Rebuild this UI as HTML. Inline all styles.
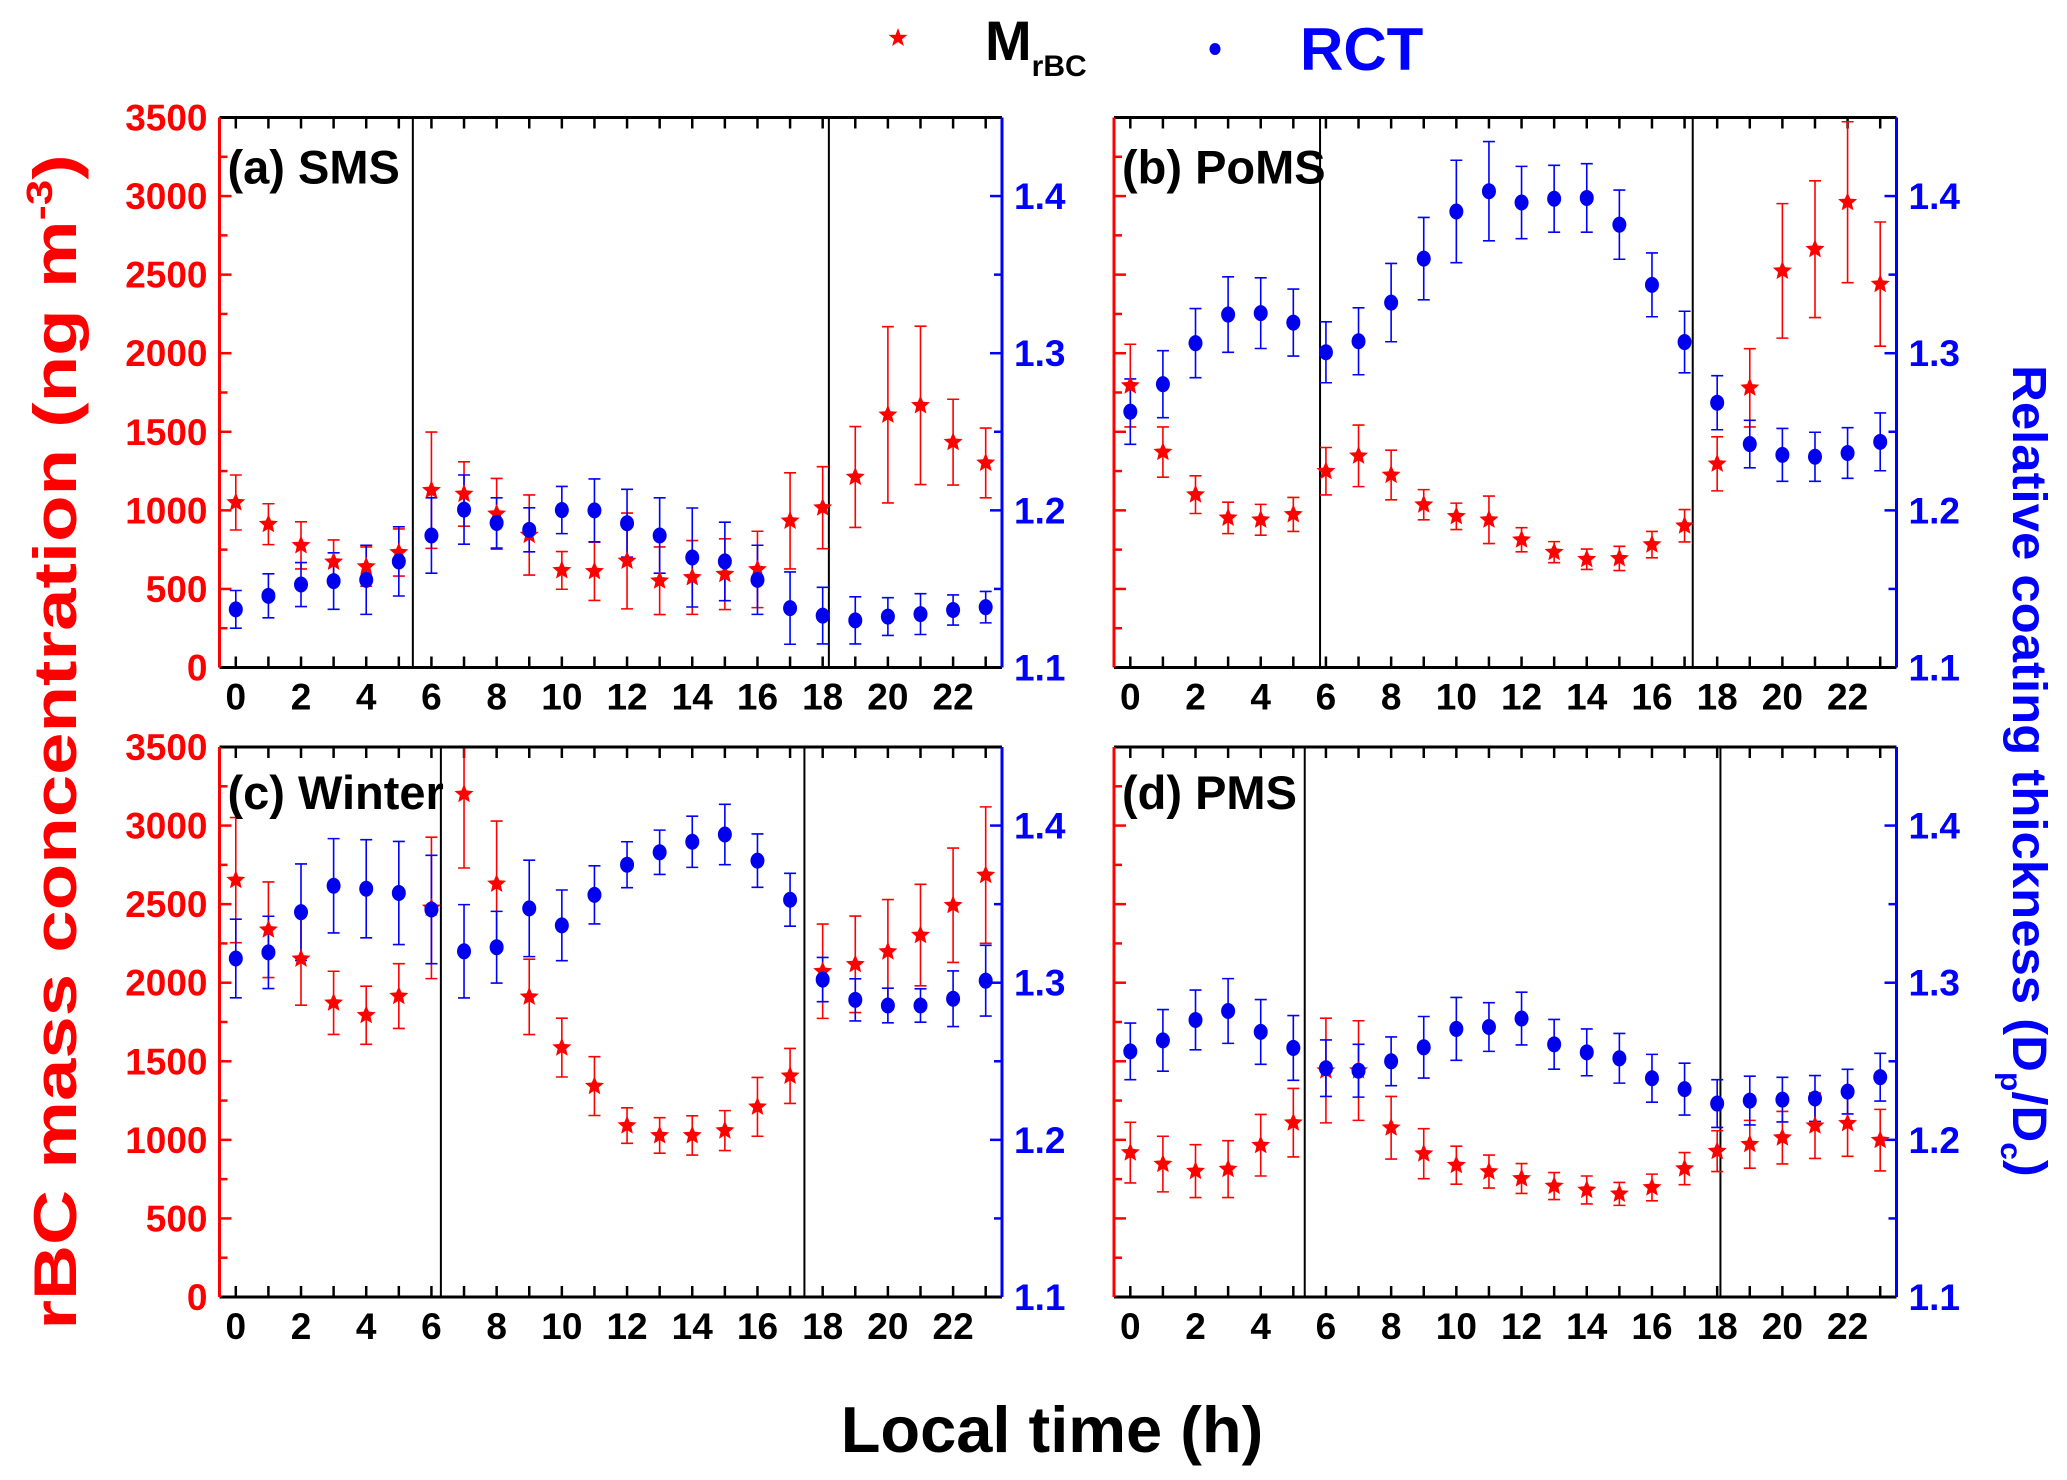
<!DOCTYPE html>
<html><head><meta charset="utf-8"><style>
html,body{margin:0;padding:0;background:#fff;}
svg{display:block;font-family:"Liberation Sans",Arial,sans-serif;font-weight:bold;}
</style></head><body>
<svg id="chart" width="2067" height="1480" viewBox="0 0 2067 1480" xmlns="http://www.w3.org/2000/svg">
<g>
  <g>
    <polygon fill="#ff0000" points="898,28 900.4,34.7 907.5,34.9 901.9,39.2 903.9,46 898,42 892.1,46 894.1,39.2 888.5,34.9 895.6,34.7"/>
    <text x="985" y="60" font-size="56" fill="#000">M<tspan font-size="30" dy="16">rBC</tspan></text>
  </g>
  <g>
    <ellipse cx="1215" cy="49" rx="5.5" ry="6" fill="#0000ee"/>
    <text x="1300" y="70" font-size="60" fill="#0000ff">RCT</text>
  </g>
</g>
<text transform="translate(76,742) rotate(-90) scale(1.27,1)" text-anchor="middle" font-size="60" fill="#ff0000">rBC mass concentration (ng m<tspan font-size="36" dy="-24">-3</tspan><tspan dy="24">)</tspan></text>
<text transform="translate(2013,771) rotate(90) scale(1.06,1)" text-anchor="middle" font-size="48" fill="#0000ff">Relative coating thickness (D<tspan font-size="30" dy="12">p</tspan><tspan dy="-12">/D</tspan><tspan font-size="30" dy="12">c</tspan><tspan dy="-12">)</tspan></text>
<text x="1052" y="1452" text-anchor="middle" font-size="65" fill="#000">Local time (h)</text>
<g id="panels"></g>
</svg>
<script>
// ---- data ----
const hours = [0,1,2,3,4,5,6,7,8,9,10,11,12,13,14,15,16,17,18,19,20,21,22,23];
const panelNames = ["(a) SMS","(b) PoMS","(c) Winter","(d) PMS"];
const rbcA = [1050,912,777,672,642,732,1128,1104,978,843,618,612,678,552,573,594,624,933,1017,1212,1608,1668,1434,1302];
const rbcErrA = [175,130,150,140,125,150,370,205,225,255,120,185,305,215,235,225,243,306,261,321,561,504,273,222];
const rctA = [1.137,1.1456,1.1528,1.155,1.1558,1.1675,1.184,1.2005,1.192,1.1876,1.2002,1.2,1.1918,1.184,1.17,1.1675,1.1558,1.1378,1.133,1.13,1.1324,1.134,1.1366,1.1384];
const rctErrA = [0.012,0.014,0.014,0.018,0.022,0.022,0.024,0.022,0.016,0.014,0.015,0.02,0.0216,0.024,0.0315,0.025,0.022,0.023,0.018,0.015,0.012,0.013,0.0096,0.010];
const rbcB = [1794,1371,1100,952,940,974,1249,1347,1225,1036,962,940,813,734,689,694,782,902,1296,1780,2524,2662,2961,2440];
const rbcErrB = [263,160,120,100,98,108,151,196,158,96,84,151,77,67,65,77,84,103,172,249,428,435,512,395];
const rctB = [1.2628,1.2803,1.3064,1.3246,1.3255,1.3195,1.3006,1.3076,1.3322,1.3602,1.3902,1.4031,1.3959,1.3983,1.3988,1.3818,1.3435,1.3071,1.2685,1.2422,1.2353,1.2341,1.2365,1.2436];
const rctErrB = [0.0208,0.0213,0.022,0.024,0.0225,0.0213,0.0194,0.0213,0.0249,0.0262,0.0326,0.0316,0.023,0.0213,0.0218,0.022,0.0203,0.0196,0.0172,0.0151,0.0168,0.0156,0.0161,0.0184];
const rbcC = [2653,2337,2152,1872,1793,1915,2476,3200,2629,1910,1587,1342,1091,1028,1028,1059,1210,1407,2073,2117,2198,2303,2493,2685];
const rbcErrC = [398,304,295,201,185,206,450,470,400,240,187,187,113,113,125,127,187,175,300,307,331,323,364,434];
const rctC = [1.3154,1.3193,1.3449,1.3617,1.3598,1.3571,1.3466,1.32,1.3226,1.3473,1.3365,1.3559,1.3751,1.383,1.3897,1.3943,1.3777,1.3528,1.302,1.2891,1.2855,1.2855,1.2898,1.3013];
const rctErrC = [0.025,0.023,0.0307,0.03,0.0312,0.0328,0.0345,0.0297,0.0228,0.0307,0.0225,0.0185,0.0146,0.0141,0.0163,0.0192,0.017,0.0168,0.0141,0.0134,0.011,0.0106,0.0177,0.0225];
const rbcD = [919,846,801,814,966,1109,1441,1441,1077,912,839,798,754,706,681,656,697,817,928,972,1014,1090,1105,998];
const rbcErrD = [193,177,168,181,196,218,333,317,199,159,121,105,95,86,89,73,85,102,130,152,167,208,210,196];
const rctD = [1.2563,1.2633,1.2763,1.282,1.2687,1.2585,1.2456,1.244,1.25,1.2589,1.2706,1.2718,1.2772,1.2608,1.2557,1.2519,1.2392,1.2323,1.2231,1.225,1.2256,1.2263,1.2307,1.2399];
const rctErrD = [0.018,0.0196,0.019,0.0206,0.0206,0.0206,0.018,0.0168,0.0155,0.0196,0.02,0.0155,0.0168,0.0158,0.0149,0.0158,0.0152,0.0165,0.0152,0.0155,0.0142,0.0146,0.0142,0.0152];
const sunrise = [5.43,5.82,6.29,5.35];
const sunset = [18.19,17.25,17.44,18.1];
const leftTicks = [0,500,1000,1500,2000,2500,3000,3500];
const rightTicks = [1.1,1.2,1.3,1.4];
const xTickLabels = [0,2,4,6,8,10,12,14,16,18,20,22];

const rbcSets=[rbcA,rbcB,rbcC,rbcD], rbcErrSets=[rbcErrA,rbcErrB,rbcErrC,rbcErrD];
const rctSets=[rctA,rctB,rctC,rctD], rctErrSets=[rctErrA,rctErrB,rctErrC,rctErrD];

const NS="http://www.w3.org/2000/svg";
function mk(tag,attrs,parent){const e=document.createElementNS(NS,tag);for(const k in attrs)e.setAttribute(k,attrs[k]);if(parent)parent.appendChild(e);return e;}
const origins=[[219.5,117.5],[1114,117.5],[219.5,747],[1114,747]];
const W=782.5,H=550;
const root=document.getElementById('panels');

function starPts(cx,cy,R){const r=R*0.45;let p=[];for(let i=0;i<10;i++){const a=-Math.PI/2+i*Math.PI/5;const rr=i%2?r:R;p.push((cx+rr*Math.cos(a)).toFixed(1)+","+(cy+rr*Math.sin(a)).toFixed(1));}return p.join(" ");}

for(let p=0;p<4;p++){
  const [ox,oy]=origins[p];
  const xS=h=>ox+(h+0.5)/24*W;
  const yL=v=>oy+H-v/3500*H;
  const yR=v=>oy+H-(v-1.1)/0.35*H;
  const g=mk('g',{},root);
  
  
  [sunrise[p],sunset[p]].forEach((h,i)=>{
    const l=mk('line',{x1:xS(h),x2:xS(h),y1:oy,y2:oy+H,stroke:'#000','stroke-width':2},g);
    
    
  });
  hours.forEach(h=>{
    const t1=mk('line',{x1:xS(h),x2:xS(h),y1:oy,y2:oy+11,stroke:'#000','stroke-width':2.5},g);
    
    
    const t2=mk('line',{x1:xS(h),x2:xS(h),y1:oy+H,y2:oy+H-11,stroke:'#000','stroke-width':2.5},g);
    
    
  });
  xTickLabels.forEach(h=>{
    const t=mk('text',{x:xS(h),y:oy+H+42,'text-anchor':'middle','font-size':37,fill:'#000'},g);
    t.textContent=h;
    
    
  });
  for(let v=0;v<=3500;v+=250){
    const major=v%500===0;
    const t=mk('line',{x1:ox,x2:ox+(major?12:8),y1:yL(v),y2:yL(v),stroke:'#ff0000','stroke-width':2.5},g);
    
    
  }
  if(p%2===0){
    leftTicks.forEach(v=>{
      const t=mk('text',{x:ox-12,y:yL(v)+13,'text-anchor':'end','font-size':37,fill:'#ff0000'},g);
      t.textContent=v;
      
      
    });
  }
  for(let i=0;i<=7;i++){
    const v=1.1+i*0.05;const major=i%2===0;
    const t=mk('line',{x1:ox+W,x2:ox+W-(major?12:8),y1:yR(v),y2:yR(v),stroke:'#0000ff','stroke-width':2.5},g);
    
    
  }
  rightTicks.forEach(v=>{
    const t=mk('text',{x:ox+W+12,y:yR(v)+13,'text-anchor':'start','font-size':37,fill:'#0000ff'},g);
    t.textContent=v.toFixed(1);
    
    
  });
  const rbc=rbcSets[p],rbcE=rbcErrSets[p],rct=rctSets[p],rctE=rctErrSets[p];
  hours.forEach((h,i)=>{
    const x=xS(h);
    const top=Math.max(yL(rbc[i]+rbcE[i]),oy), bot=yL(rbc[i]-rbcE[i]);
    const e=mk('path',{d:`M${x},${top}V${bot}M${x-6},${top}H${x+6}M${x-6},${bot}H${x+6}`,stroke:'#ff0000','stroke-width':1.6,fill:'none'},g);
    
    
  });
  hours.forEach((h,i)=>{
    const x=xS(h);
    const top=yR(rct[i]+rctE[i]), bot=yR(rct[i]-rctE[i]);
    const e=mk('path',{d:`M${x},${top}V${bot}M${x-6},${top}H${x+6}M${x-6},${bot}H${x+6}`,stroke:'#0000ff','stroke-width':1.6,fill:'none'},g);
    
    
  });
  hours.forEach((h,i)=>{
    const s=mk('polygon',{points:starPts(xS(h),yL(rbc[i]),10),fill:'#ff0000'},g);
    
    
  });
  hours.forEach((h,i)=>{
    const d=mk('ellipse',{cx:xS(h),cy:yR(rct[i]),rx:7,ry:8,fill:'#0000ee'},g);
    
    
  });
  const ax=[[ox,oy,ox+W,oy,'#000','top-axis'],[ox,oy+H,ox+W,oy+H,'#000','bottom-axis'],[ox,oy,ox,oy+H,'#ff0000','left-axis'],[ox+W,oy,ox+W,oy+H,'#0000ff','right-axis']];
  ax.forEach(a=>{
    const l=mk('line',{x1:a[0],y1:a[1],x2:a[2],y2:a[3],stroke:a[4],'stroke-width':3},g);
    
    
  });
  const lab=mk('text',{x:ox+8,y:oy+(p<2?66:62),'font-size':47,fill:'#000'},g);
  lab.textContent=panelNames[p];
  
  
}
</script>
</body></html>
